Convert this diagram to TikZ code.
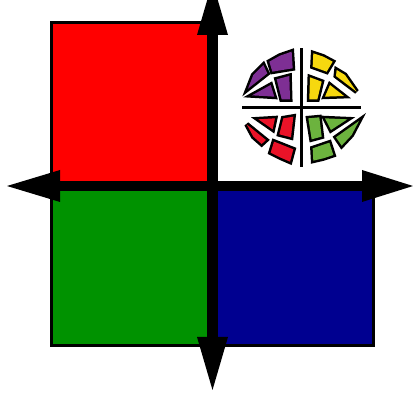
\documentclass[tikz,border=0pt]{standalone}
\usetikzlibrary{decorations.pathmorphing}
\definecolor{qred}{HTML}{FF0000}
\definecolor{qgreen}{HTML}{009200}
\definecolor{qblue}{HTML}{000090}
\definecolor{lpurple}{HTML}{7E2F94}
\definecolor{lyellow}{HTML}{F6D80F}
\definecolor{lred}{HTML}{EA1328}
\definecolor{lgreen}{HTML}{6CB33E}
\tikzset{
  quad/.style={draw=black,line width=2.6pt,line join=miter},
  bar/.style={fill=black,draw=none},
  tip/.style={fill=black,draw=none},
  paneedge/.style={draw=black,fill=black,line width=5pt,line join=miter,miter limit=5},
  panefill/.style={draw=none},
  leadline/.style={draw=black,line width=2.4pt}
}
\newcommand{\glasspane}[2]{%
  \path[paneedge] #2 -- cycle;
  \path[panefill,fill=#1] #2 -- cycle;}
\begin{document}
\begin{tikzpicture}[x=1pt,y=-1pt]
\useasboundingbox (0,0) rectangle (413,411);
\clip (0,0) rectangle (413,411);
\fill[white] (0,0) rectangle (413,411);
% quadrants
\draw[quad,fill=qred] (51.5,22.5) rectangle (212,186);
\draw[quad,fill=qgreen] (51.5,186) rectangle (212,345.5);
\draw[quad,fill=qblue] (212,186) rectangle (373.5,345.5);
% axes
\fill[bar] (207,20) rectangle (218,350);
\fill[bar] (50,181.5) rectangle (375,191);
% arrowheads
\fill[tip] (212.5,-18) -- (228,35) -- (197,35) -- cycle;
\fill[tip] (212.5,390) -- (228,337) -- (197,337) -- cycle;
\fill[tip] (7,186) -- (60,170) -- (60,202) -- cycle;
\fill[tip] (413,186) -- (362,170) -- (362,202) -- cycle;
% logo
\begin{scope}[shift={(230,40)},x=0.3333pt,y=-0.3333pt]
\draw[leadline] (214,25) -- (214,380);
\draw[leadline] (36,203) -- (392,203);
\glasspane{lpurple}{(118,65) -- (150,47) -- (185,35) -- (188,85) -- (127,95)}
\glasspane{lpurple}{(54,146) -- (70,105) -- (100,75) -- (112,100)}
\glasspane{lpurple}{(66,166) -- (122,135) -- (133,170)}
\glasspane{lpurple}{(140,118) -- (178,108) -- (180,178) -- (155,178)}
\glasspane{lyellow}{(250,40) -- (280,50) -- (308,65) -- (290,95) -- (248,80)}
\glasspane{lyellow}{(320,90) -- (345,105) -- (380,155) -- (318,108)}
\glasspane{lyellow}{(240,112) -- (275,125) -- (262,178) -- (238,178)}
\glasspane{lyellow}{(285,170) -- (300,135) -- (342,168)}
\glasspane{lred}{(85,238) -- (135,235) -- (128,268)}
\glasspane{lred}{(50,253) -- (108,300) -- (95,312) -- (70,290)}
\glasspane{lred}{(160,235) -- (190,230) -- (183,292) -- (148,283)}
\glasspane{lred}{(132,305) -- (190,328) -- (180,365) -- (150,352) -- (122,338)}
\glasspane{lgreen}{(235,235) -- (268,232) -- (275,290) -- (245,298)}
\glasspane{lgreen}{(285,235) -- (352,238) -- (303,270)}
\glasspane{lgreen}{(387,243) -- (365,285) -- (335,317) -- (318,292)}
\glasspane{lgreen}{(248,325) -- (298,308) -- (310,345) -- (280,355) -- (250,362)}
\end{scope}
\end{tikzpicture}
\end{document}
